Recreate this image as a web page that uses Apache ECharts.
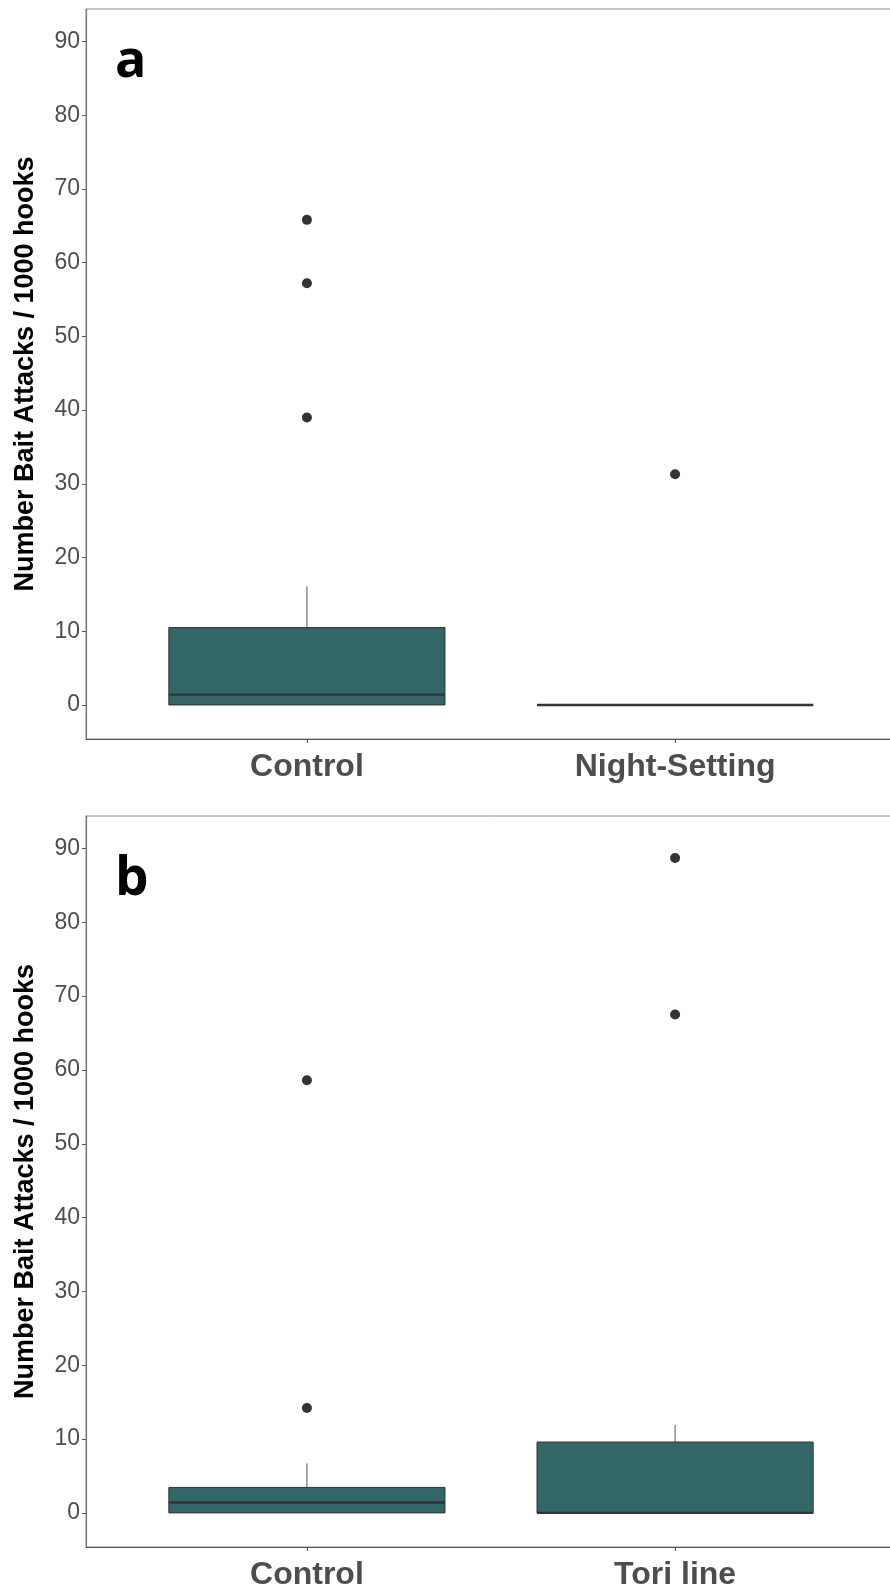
<!DOCTYPE html>
<html>
<head>
<meta charset="utf-8">
<script src="https://cdn.jsdelivr.net/npm/echarts@6/dist/echarts.min.js"></script>
<style>
  html, body { margin: 0; padding: 0; background: #fff; }
  #chart { width: 890px; height: 1587px; }
</style>
</head>
<body>
<div id="chart"></div>
<script>
// panel a
var catsA = ['Control', 'Night-Setting'];
// [lower whisker, Q1, median, Q3, upper whisker]
var boxA = [
    [0, 0, 1.4, 10.5, 16.1],
    [0, 0, 0, 0, 0]
];
var outA = [
    [65.8, 57.2, 39.0],
    [31.3]
];

// panel b
var catsB = ['Control', 'Tori line'];
var boxB = [
    [0, 0, 1.4, 3.45, 6.7],
    [0, 0, 0, 9.6, 11.9]
];
var outB = [
    [58.6, 14.2],
    [88.7, 67.5]
];

var yTicks = [0, 10, 20, 30, 40, 50, 60, 70, 80, 90];
var yName = 'Number Bait Attacks / 1000 hooks';

var BOX_W = 0.75;
var fill = '#336666';
var ink = '#4d4d4d';

function renderBox(params, api) {
    var x = api.value(0);
    var low = api.coord([x, api.value(1)]);
    var q1 = api.coord([x, api.value(2)]);
    var med = api.coord([x, api.value(3)]);
    var q3 = api.coord([x, api.value(4)]);
    var high = api.coord([x, api.value(5)]);
    var half = api.size([BOX_W, 0])[0] / 2;
    var cx = med[0];
    return {
        type: 'group',
        children: [
            {type: 'line', shape: {x1: cx, y1: high[1], x2: cx, y2: q3[1]},
             style: {stroke: '#555', lineWidth: 1}},
            {type: 'line', shape: {x1: cx, y1: q1[1], x2: cx, y2: low[1]},
             style: {stroke: '#555', lineWidth: 1}},
            {type: 'rect', shape: {x: cx - half, y: q3[1], width: half * 2, height: q1[1] - q3[1]},
             style: {fill: fill, stroke: '#333', lineWidth: 1}},
            {type: 'line', shape: {x1: cx - half, y1: med[1], x2: cx + half, y2: med[1]},
             style: {stroke: '#333', lineWidth: 2.4}}
        ]
    };
}

function boxData(boxes) {
    return boxes.map(function (b, i) { return [i + 1].concat(b); });
}

function outData(outs) {
    var res = [];
    outs.forEach(function (vals, i) {
        vals.forEach(function (v) { res.push([i + 1, v]); });
    });
    return res;
}

function xAxisFor(idx, cats) {
    return {
        type: 'value',
        gridIndex: idx,
        min: 0.4,
        max: 2.6,
        splitLine: {show: false},
        axisLine: {onZero: false, lineStyle: {color: '#555', width: 1.2}},
        axisTick: {customValues: [1, 2], length: 4, lineStyle: {color: '#555'}},
        axisLabel: {
            customValues: [1, 2],
            margin: 12,
            fontSize: 32,
            fontWeight: 'bold',
            fontFamily: 'Liberation Sans',
            color: ink,
            formatter: function (v) { return cats[Math.round(v) - 1]; }
        }
    };
}

function yAxisFor(idx) {
    return {
        type: 'value',
        gridIndex: idx,
        min: -4.62,
        max: 94.4,
        splitLine: {show: false},
        axisLine: {show: true, onZero: false, lineStyle: {color: '#777', width: 1.2}},
        axisTick: {show: true, customValues: yTicks, length: 4, lineStyle: {color: '#555'}},
        axisLabel: {
            customValues: yTicks,
            margin: 6,
            fontSize: 23,
            fontFamily: 'Liberation Sans',
            color: ink
        },
        name: yName,
        nameLocation: 'middle',
        nameGap: 47,
        nameTextStyle: {
            fontSize: 27,
            fontWeight: 'bold',
            fontFamily: 'Liberation Sans',
            color: '#000'
        }
    };
}

var myChart = echarts.init(document.getElementById('chart'));

var option = {
    backgroundColor: '#fff',
    animation: false,
    grid: [
        {left: 86, top: 9, width: 810, height: 730, show: true,
         borderColor: '#8c8c8c', borderWidth: 1, outerBoundsMode: 'none', containLabel: false},
        {left: 86, top: 816, width: 810, height: 731, show: true,
         borderColor: '#8c8c8c', borderWidth: 1, outerBoundsMode: 'none', containLabel: false}
    ],
    xAxis: [xAxisFor(0, catsA), xAxisFor(1, catsB)],
    yAxis: [yAxisFor(0), yAxisFor(1)],
    graphic: [
        {type: 'text', left: 115, top: 36,
         style: {text: 'a', font: 'bold 52px "Open Sans"', fill: '#000'}},
        {type: 'text', left: 115, top: 853,
         style: {text: 'b', font: 'bold 53px "Open Sans"', fill: '#000'}}
    ],
    series: [
        {
            type: 'custom',
            xAxisIndex: 0, yAxisIndex: 0,
            renderItem: renderBox,
            encode: {x: 0, y: [1, 2, 3, 4, 5]},
            data: boxData(boxA)
        },
        {
            type: 'scatter',
            xAxisIndex: 0, yAxisIndex: 0,
            symbolSize: 10,
            itemStyle: {color: '#333', opacity: 1},
            data: outData(outA)
        },
        {
            type: 'custom',
            xAxisIndex: 1, yAxisIndex: 1,
            renderItem: renderBox,
            encode: {x: 0, y: [1, 2, 3, 4, 5]},
            data: boxData(boxB)
        },
        {
            type: 'scatter',
            xAxisIndex: 1, yAxisIndex: 1,
            symbolSize: 10,
            itemStyle: {color: '#333', opacity: 1},
            data: outData(outB)
        }
    ]
};

myChart.setOption(option);
</script>
</body>
</html>
